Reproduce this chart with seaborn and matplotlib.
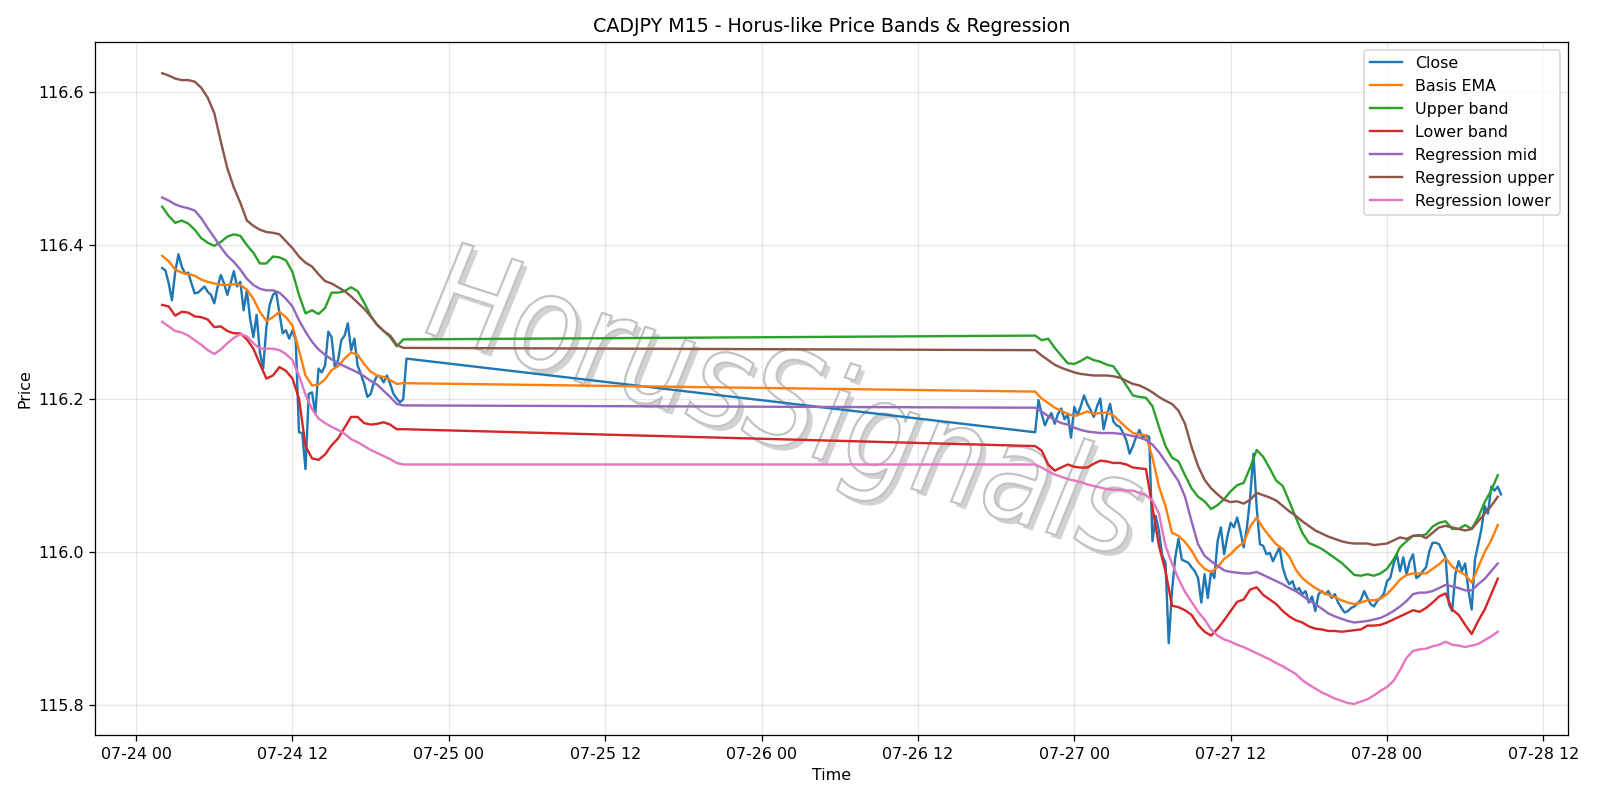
import pandas as pd
import matplotlib
matplotlib.use('Agg')
import matplotlib.pyplot as plt
import matplotlib.dates as mdates
import matplotlib.patheffects as pe
from matplotlib.textpath import TextPath
from matplotlib.patches import PathPatch
from matplotlib.font_manager import FontProperties
from matplotlib.transforms import Affine2D, ScaledTranslation
import seaborn as sns

# close, 15 min bars (two sessions)
close_a = [116.370, 116.367, 116.350, 116.328, 116.365, 116.388, 116.372, 116.363, 116.364, 116.350,
           116.337, 116.338, 116.342, 116.346, 116.339, 116.335, 116.324, 116.345, 116.361, 116.350,
           116.335, 116.350, 116.366, 116.346, 116.352, 116.315, 116.341, 116.304, 116.280, 116.309,
           116.260, 116.239, 116.293, 116.322, 116.335, 116.339, 116.311, 116.285, 116.289, 116.278,
           116.289, 116.276, 116.156, 116.155, 116.108, 116.206, 116.208, 116.180, 116.239, 116.234,
           116.243, 116.287, 116.280, 116.241, 116.250, 116.276, 116.282, 116.298, 116.263, 116.278,
           116.243, 116.232, 116.219, 116.202, 116.206, 116.221, 116.230, 116.228, 116.221, 116.230,
           116.219, 116.206, 116.200, 116.195, 116.199, 116.252]
close_b = [116.156, 116.198, 116.180, 116.165, 116.175, 116.181, 116.167, 116.180, 116.187, 116.173,
           116.179, 116.149, 116.189, 116.178, 116.190, 116.204, 116.193, 116.185, 116.176, 116.190,
           116.200, 116.160, 116.178, 116.193, 116.170, 116.165, 116.163, 116.155, 116.145, 116.128,
           116.138, 116.150, 116.159, 116.149, 116.152, 116.150, 116.014, 116.047, 116.027, 115.995,
           115.986, 115.881, 115.949, 115.993, 116.017, 115.990, 115.988, 115.986, 115.980, 115.975,
           115.966, 115.934, 115.971, 115.940, 115.975, 115.966, 116.014, 116.032, 115.997, 116.020,
           116.038, 116.032, 116.045, 116.027, 116.006, 116.032, 116.071, 116.128, 116.058, 116.010,
           116.008, 115.997, 115.999, 115.988, 115.997, 116.006, 115.980, 115.966, 115.958, 115.962,
           115.949, 115.953, 115.945, 115.949, 115.934, 115.942, 115.923, 115.945, 115.949, 115.945,
           115.949, 115.940, 115.945, 115.934, 115.927, 115.921, 115.923, 115.927, 115.929, 115.933,
           115.938, 115.949, 115.940, 115.932, 115.929, 115.936, 115.940, 115.945, 115.962, 115.966,
           115.984, 115.997, 115.975, 115.993, 115.971, 115.988, 115.997, 115.966, 115.969, 115.975,
           115.980, 116.001, 116.012, 116.012, 116.010, 116.001, 115.993, 115.932, 115.923, 115.971,
           115.988, 115.975, 115.985, 115.950, 115.925, 115.990, 116.010, 116.030, 116.060, 116.050,
           116.085, 116.080, 116.085, 116.075]

# bands, sampled every 30 min
ema_a = [116.386, 116.379, 116.368, 116.364, 116.362, 116.360, 116.355, 116.352, 116.350, 116.348,
         116.348, 116.349, 116.348, 116.342, 116.330, 116.313, 116.301, 116.306, 116.313, 116.306,
         116.295, 116.263, 116.230, 116.217, 116.218, 116.225, 116.237, 116.242, 116.252, 116.260,
         116.257, 116.245, 116.235, 116.230, 116.228, 116.224, 116.219, 116.220]
ema_b = [116.209, 116.200, 116.194, 116.188, 116.184, 116.180, 116.177, 116.180, 116.183, 116.180,
         116.181, 116.182, 116.178, 116.170, 116.162, 116.155, 116.153, 116.152, 116.123, 116.085,
         116.060, 116.025, 116.021, 116.013, 116.002, 115.987, 115.978, 115.974, 115.980, 115.991,
         115.997, 116.006, 116.012, 116.033, 116.045, 116.031, 116.020, 116.010, 116.004, 115.994,
         115.977, 115.966, 115.959, 115.953, 115.948, 115.944, 115.941, 115.937, 115.934, 115.932,
         115.934, 115.937, 115.937, 115.939, 115.945, 115.954, 115.964, 115.970, 115.972, 115.972,
         115.972, 115.978, 115.984, 115.992, 115.981, 115.975, 115.970, 115.960, 115.980, 116.000,
         116.015, 116.035]

upper_a = [116.450, 116.438, 116.429, 116.432, 116.428, 116.420, 116.409, 116.403, 116.399, 116.404,
           116.411, 116.414, 116.412, 116.400, 116.390, 116.376, 116.376, 116.385, 116.384, 116.380,
           116.365, 116.335, 116.311, 116.315, 116.310, 116.318, 116.338, 116.338, 116.340, 116.345,
           116.340, 116.325, 116.308, 116.296, 116.288, 116.280, 116.268, 116.277]
upper_b = [116.282, 116.276, 116.278, 116.266, 116.256, 116.246, 116.245, 116.249, 116.254, 116.250,
           116.248, 116.244, 116.242, 116.230, 116.217, 116.204, 116.202, 116.201, 116.190, 116.163,
           116.138, 116.123, 116.118, 116.100, 116.083, 116.072, 116.066, 116.056, 116.061, 116.069,
           116.079, 116.087, 116.090, 116.110, 116.133, 116.124, 116.109, 116.093, 116.086, 116.066,
           116.045, 116.025, 116.012, 116.008, 116.004, 115.998, 115.992, 115.986, 115.978, 115.970,
           115.969, 115.971, 115.969, 115.972, 115.978, 115.990, 116.006, 116.014, 116.021, 116.021,
           116.023, 116.033, 116.038, 116.040, 116.030, 116.030, 116.035, 116.030, 116.045, 116.065,
           116.080, 116.100]

lower_a = [116.322, 116.320, 116.308, 116.313, 116.312, 116.307, 116.306, 116.303, 116.293, 116.294,
           116.288, 116.285, 116.285, 116.277, 116.265, 116.245, 116.226, 116.230, 116.241, 116.236,
           116.226, 116.200, 116.138, 116.122, 116.120, 116.127, 116.139, 116.148, 116.162, 116.176,
           116.176, 116.168, 116.166, 116.167, 116.169, 116.166, 116.160, 116.160]
lower_b = [116.138, 116.132, 116.114, 116.106, 116.110, 116.114, 116.111, 116.110, 116.110, 116.115,
           116.119, 116.118, 116.116, 116.116, 116.114, 116.110, 116.109, 116.108, 116.058, 116.008,
           115.975, 115.930, 115.928, 115.924, 115.918, 115.905, 115.896, 115.891, 115.900, 115.911,
           115.923, 115.935, 115.938, 115.951, 115.954, 115.944, 115.938, 115.932, 115.923, 115.916,
           115.911, 115.908, 115.903, 115.900, 115.899, 115.897, 115.897, 115.896, 115.897, 115.898,
           115.899, 115.904, 115.904, 115.905, 115.908, 115.912, 115.916, 115.920, 115.924, 115.922,
           115.927, 115.934, 115.942, 115.946, 115.925, 115.918, 115.905, 115.893, 115.910, 115.925,
           115.945, 115.965]

reg_mid_a = [116.462, 116.458, 116.453, 116.450, 116.448, 116.445, 116.435, 116.422, 116.410, 116.397,
             116.386, 116.378, 116.368, 116.356, 116.348, 116.343, 116.341, 116.341, 116.338, 116.330,
             116.320, 116.302, 116.287, 116.274, 116.264, 116.257, 116.251, 116.246, 116.242, 116.238,
             116.234, 116.229, 116.223, 116.218, 116.210, 116.202, 116.193, 116.191]
reg_mid_b = [116.188, 116.183, 116.177, 116.172, 116.168, 116.166, 116.162, 116.159, 116.157, 116.156,
             116.155, 116.155, 116.155, 116.154, 116.153, 116.151, 116.149, 116.146, 116.140, 116.130,
             116.118, 116.105, 116.092, 116.072, 116.040, 116.010, 115.995, 115.988, 115.982, 115.976,
             115.974, 115.973, 115.972, 115.972, 115.974, 115.970, 115.966, 115.962, 115.958, 115.953,
             115.949, 115.943, 115.937, 115.932, 115.926, 115.920, 115.916, 115.913, 115.910, 115.908,
             115.909, 115.910, 115.912, 115.914, 115.918, 115.923, 115.929, 115.936, 115.945, 115.947,
             115.947, 115.949, 115.953, 115.957, 115.955, 115.953, 115.950, 115.950, 115.958, 115.965,
             115.975, 115.985]

reg_up_a = [116.624, 116.621, 116.617, 116.615, 116.615, 116.613, 116.605, 116.592, 116.572, 116.535,
            116.500, 116.475, 116.455, 116.432, 116.425, 116.420, 116.417, 116.416, 116.414, 116.405,
            116.396, 116.385, 116.377, 116.372, 116.362, 116.353, 116.350, 116.345, 116.340, 116.333,
            116.325, 116.317, 116.307, 116.296, 116.288, 116.282, 116.270, 116.266]
reg_up_b = [116.263, 116.256, 116.250, 116.244, 116.240, 116.237, 116.234, 116.232, 116.231, 116.230,
            116.230, 116.230, 116.229, 116.227, 116.223, 116.219, 116.217, 116.213, 116.208, 116.202,
            116.197, 116.193, 116.184, 116.167, 116.137, 116.112, 116.094, 116.083, 116.075, 116.068,
            116.065, 116.066, 116.063, 116.068, 116.077, 116.074, 116.071, 116.067, 116.060, 116.053,
            116.047, 116.040, 116.034, 116.028, 116.024, 116.020, 116.017, 116.014, 116.012, 116.011,
            116.011, 116.011, 116.009, 116.010, 116.011, 116.015, 116.019, 116.017, 116.021, 116.022,
            116.018, 116.025, 116.032, 116.034, 116.032, 116.030, 116.028, 116.030, 116.040, 116.050,
            116.060, 116.072]

reg_low_a = [116.300, 116.294, 116.288, 116.286, 116.282, 116.276, 116.270, 116.263, 116.258, 116.264,
             116.272, 116.279, 116.284, 116.281, 116.272, 116.265, 116.265, 116.265, 116.263, 116.258,
             116.250, 116.230, 116.205, 116.186, 116.174, 116.168, 116.163, 116.159, 116.154, 116.147,
             116.143, 116.138, 116.133, 116.129, 116.125, 116.121, 116.116, 116.114]
reg_low_b = [116.114, 116.110, 116.105, 116.101, 116.098, 116.095, 116.093, 116.091, 116.088, 116.086,
             116.084, 116.082, 116.081, 116.081, 116.080, 116.080, 116.077, 116.074, 116.067, 116.050,
             116.008, 115.985, 115.965, 115.948, 115.935, 115.922, 115.912, 115.899, 115.891, 115.886,
             115.883, 115.879, 115.876, 115.872, 115.868, 115.864, 115.860, 115.855, 115.851, 115.846,
             115.841, 115.833, 115.827, 115.822, 115.817, 115.813, 115.809, 115.806, 115.803, 115.802,
             115.805, 115.808, 115.813, 115.819, 115.824, 115.832, 115.846, 115.862, 115.871, 115.873,
             115.874, 115.877, 115.879, 115.883, 115.879, 115.878, 115.876, 115.878, 115.880, 115.885,
             115.890, 115.896]

t_close = pd.date_range('2025-07-24 02:00', periods=len(close_a), freq='15min').append(
    pd.date_range('2025-07-26 21:00', periods=len(close_b), freq='15min'))
t_band = pd.date_range('2025-07-24 02:00', periods=len(ema_a), freq='30min').append(
    pd.date_range('2025-07-26 21:00', periods=len(ema_b), freq='30min'))

series = [
    ('Basis EMA', ema_a + ema_b),
    ('Upper band', upper_a + upper_b),
    ('Lower band', lower_a + lower_b),
    ('Regression mid', reg_mid_a + reg_mid_b),
    ('Regression upper', reg_up_a + reg_up_b),
    ('Regression lower', reg_low_a + reg_low_b),
]

fig, ax = plt.subplots(figsize=(14, 7), dpi=1600 / 14)

sns.lineplot(x=t_close, y=close_a + close_b, ax=ax, color='C0', label='Close', linewidth=1.5)
for i, (name, vals) in enumerate(series):
    sns.lineplot(x=t_band, y=vals, ax=ax, color=f'C{i + 1}', label=name, linewidth=1.5)

ax.set_title('CADJPY M15 - Horus-like Price Bands & Regression')
ax.set_xlabel('Time')
ax.set_ylabel('Price')
ax.xaxis.set_major_locator(mdates.HourLocator(byhour=[0, 12]))
ax.xaxis.set_major_formatter(mdates.DateFormatter('%m-%d %H'))
ax.grid(True, alpha=0.3)
ax.legend(loc='upper right')

plt.tight_layout()

# watermark: italic text, rotated then stretched a bit vertically
tp = TextPath((0, 0), 'HorusSignals', size=1, prop=FontProperties(family='DejaVu Sans', style='italic'))
bb = tp.get_extents()
wm_tr = (Affine2D().translate(-(bb.x0 + bb.x1) / 2, -(bb.y0 + bb.y1) / 2)
         .scale(112).rotate_deg(-15).scale(1, 1.2)
         + ScaledTranslation(0.468, 0.47, ax.transAxes))
wm = PathPatch(tp, transform=wm_tr, facecolor='white', edgecolor='#c4c4c4', lw=1.3, zorder=0,
               path_effects=[pe.withSimplePatchShadow(offset=(3, -3), shadow_rgbFace='gray', alpha=0.35),
                             pe.Normal()])
ax.add_artist(wm)

plt.savefig('out.png')
